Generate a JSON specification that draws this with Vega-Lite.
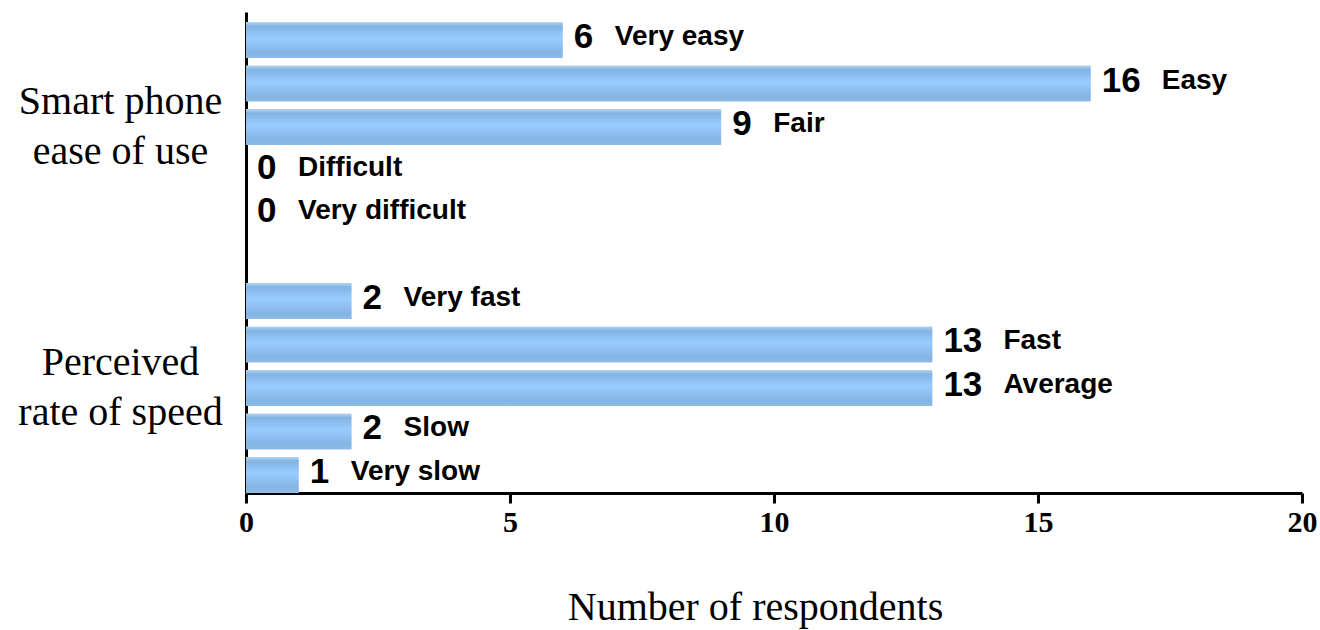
{
  "$schema": "https://vega.github.io/schema/vega-lite/v6.json",
  "autosize": {"type": "none"},
  "width": 1056,
  "height": 481,
  "padding": {"left": 246, "top": 12, "right": 18, "bottom": 137},
  "background": "white",
  "data": {
    "values": [
      {"label": "Very easy", "group": "Smart phone ease of use", "value": 6},
      {"label": "Easy", "group": "Smart phone ease of use", "value": 16},
      {"label": "Fair", "group": "Smart phone ease of use", "value": 9},
      {"label": "Difficult", "group": "Smart phone ease of use", "value": 0},
      {"label": "Very difficult", "group": "Smart phone ease of use", "value": 0},
      {"label": "Very fast", "group": "Perceived rate of speed", "value": 2},
      {"label": "Fast", "group": "Perceived rate of speed", "value": 13},
      {"label": "Average", "group": "Perceived rate of speed", "value": 13},
      {"label": "Slow", "group": "Perceived rate of speed", "value": 2},
      {"label": "Very slow", "group": "Perceived rate of speed", "value": 1}
    ]
  },
  "config": {
    "view": {"stroke": null},
    "axis": {"grid": false}
  },
  "encoding": {
    "y": {
      "field": "label",
      "type": "nominal",
      "sort": ["Very easy", "Easy", "Fair", "Difficult", "Very difficult", "gap", "Very fast", "Fast", "Average", "Slow", "Very slow"],
      "scale": {
        "domain": ["Very easy", "Easy", "Fair", "Difficult", "Very difficult", "gap", "Very fast", "Fast", "Average", "Slow", "Very slow"],
        "paddingInner": 0.17,
        "paddingOuter": 0.115,
        "align": 1
      },
      "axis": {
        "title": null,
        "ticks": false,
        "domainColor": "black",
        "domainWidth": 3,
        "labelExpr": "datum.value == 'Fair' ? ['Smart phone', 'ease of use'] : datum.value == 'Average' ? ['Perceived', 'rate of speed'] : ''",
        "labelFont": "Liberation Serif",
        "labelFontSize": 40,
        "labelColor": "black",
        "labelAlign": "center",
        "labelBaseline": "middle",
        "labelPadding": 126,
        "labelOffset": -25,
        "labelLineHeight": 50,
        "labelLimit": 300
      }
    },
    "x": {
      "field": "value",
      "type": "quantitative",
      "scale": {"domain": [0, 20], "nice": false},
      "axis": {
        "values": [0, 5, 10, 15, 20],
        "title": "Number of respondents",
        "titleFont": "Liberation Serif",
        "titleFontSize": 40,
        "titleFontWeight": "normal",
        "titleColor": "black",
        "titlePadding": 50,
        "titleX": 509,
        "domainColor": "black",
        "domainWidth": 3,
        "tickColor": "black",
        "tickWidth": 3,
        "tickSize": 10,
        "labelFont": "Liberation Serif",
        "labelFontSize": 30,
        "labelFontWeight": "bold",
        "labelColor": "black",
        "labelFlush": false,
        "labelPadding": 4
      }
    }
  },
  "layer": [
    {
      "mark": {
        "type": "bar",
        "color": {
          "gradient": "linear",
          "x1": 0, "y1": 0, "x2": 0, "y2": 1,
          "stops": [
            {"offset": 0, "color": "#b5d5f3"},
            {"offset": 0.12, "color": "#82b3e3"},
            {"offset": 0.45, "color": "#99ccff"},
            {"offset": 0.85, "color": "#84b4e4"},
            {"offset": 1, "color": "#8fbbe6"}
          ]
        }
      }
    },
    {
      "mark": {"type": "text", "align": "left", "baseline": "middle", "dx": 11, "dy": -3, "font": "Liberation Sans", "fontSize": 35, "fontWeight": "bold", "color": "black"},
      "encoding": {"text": {"field": "value", "type": "quantitative"}}
    },
    {
      "transform": [{"filter": "datum.value < 10"}],
      "mark": {"type": "text", "align": "left", "baseline": "middle", "dx": 52, "dy": -3, "font": "Liberation Sans", "fontSize": 28, "fontWeight": "bold", "color": "black"},
      "encoding": {"text": {"field": "label", "type": "nominal"}}
    },
    {
      "transform": [{"filter": "datum.value >= 10"}],
      "mark": {"type": "text", "align": "left", "baseline": "middle", "dx": 71, "dy": -3, "font": "Liberation Sans", "fontSize": 28, "fontWeight": "bold", "color": "black"},
      "encoding": {"text": {"field": "label", "type": "nominal"}}
    }
  ]
}
